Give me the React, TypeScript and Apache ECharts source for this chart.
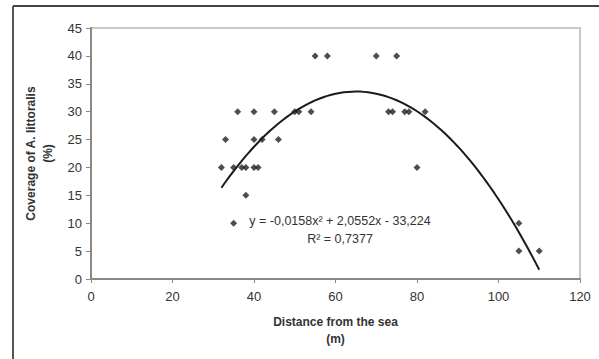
import React, { useEffect, useRef } from "react";
import * as echarts from "echarts";

// Observed points: distance from the sea (m) and coverage (%)
const distances = [
  36, 40, 45, 50, 51, 54,
  33, 40, 42, 46,
  32, 35, 37, 38, 40, 41,
  38, 35,
  55, 58, 70, 75,
  73, 74, 77, 78, 82,
  80,
  105, 105, 110,
];
const coverages = [
  30, 30, 30, 30, 30, 30,
  25, 25, 25, 25,
  20, 20, 20, 20, 20, 20,
  15, 10,
  40, 40, 40, 40,
  30, 30, 30, 30, 30,
  20,
  10, 5, 5,
];

// Polynomial trendline shown on the chart: y = a x² + b x + c
const trendA = -0.0158;
const trendB = 2.0552;
const trendC = -33.224;
const trendFrom = 32;
const trendTo = 110;

const xTicks = { min: 0, max: 120, interval: 20 };
const yTicks = { min: 0, max: 45, interval: 5 };

const equationText = "y = -0,0158x² + 2,0552x - 33,224\nR² = 0,7377";
const xTitle = "Distance from the sea\n(m)";
const yTitle = "Coverage of A. littoralis\n(%)";

export default function App() {
  const ref = useRef<HTMLDivElement>(null);
  useEffect(() => {
    if (!ref.current) return;
    const chart = echarts.init(ref.current, undefined, { renderer: "svg" });
    const points = distances.map((x, i) => [x, coverages[i]]);
    const trend: number[][] = [];
    for (let x = trendFrom; x <= trendTo; x += 1) {
      trend.push([x, trendA * x * x + trendB * x + trendC]);
    }
    const font = "'Liberation Sans', Arial, sans-serif";
    chart.setOption({
      animation: false,
      backgroundColor: "#ffffff",
      textStyle: { fontFamily: font },
      grid: {
        left: 91,
        top: 28,
        right: 19,
        bottom: 80,
        show: true,
        borderColor: "#c8c8c8",
        borderWidth: 2,
      },
      xAxis: {
        type: "value",
        min: xTicks.min,
        max: xTicks.max,
        interval: xTicks.interval,
        name: xTitle,
        nameLocation: "middle",
        nameGap: 34,
        nameTextStyle: {
          fontFamily: font,
          fontSize: 12,
          fontWeight: "bold",
          color: "#333",
          lineHeight: 17,
        },
        axisLine: { show: true, lineStyle: { color: "#888", width: 2 } },
        axisTick: { show: true, length: 4, lineStyle: { color: "#888" } },
        splitLine: { show: false },
        axisLabel: { fontFamily: font, fontSize: 13, color: "#333", margin: 11 },
      },
      yAxis: {
        type: "value",
        min: yTicks.min,
        max: yTicks.max,
        interval: yTicks.interval,
        name: yTitle,
        nameLocation: "middle",
        nameGap: 32,
        nameRotate: 90,
        nameTextStyle: {
          fontFamily: font,
          fontSize: 12,
          fontWeight: "bold",
          color: "#333",
          lineHeight: 17,
        },
        axisLine: { show: true, lineStyle: { color: "#888", width: 2 } },
        axisTick: { show: true, length: 5, lineStyle: { color: "#888" } },
        splitLine: { show: false },
        axisLabel: { fontFamily: font, fontSize: 13, color: "#333", margin: 9 },
      },
      series: [
        {
          type: "line",
          data: trend,
          showSymbol: false,
          smooth: false,
          lineStyle: { color: "#1a1a1a", width: 2 },
          z: 3,
        },
        {
          type: "scatter",
          data: points,
          symbol: "diamond",
          symbolSize: 7,
          itemStyle: { color: "#222" },
          z: 4,
        },
      ],
      graphic: [
        {
          type: "line",
          shape: { x1: 13, y1: 6, x2: 599, y2: 6 },
          style: { stroke: "#444", lineWidth: 2 },
        },
        {
          type: "line",
          shape: { x1: 13, y1: 6, x2: 13, y2: 359 },
          style: { stroke: "#555", lineWidth: 2 },
        },
        {
          type: "text",
          x: 340,
          y: 230,
          style: {
            text: equationText,
            fontFamily: font,
            fontSize: 12.5,
            fill: "#333",
            align: "center",
            verticalAlign: "middle",
            lineHeight: 18,
          },
          z: 10,
        },
      ],
    });
    return () => chart.dispose();
  }, []);
  return (
    <div
      ref={ref}
      style={{ position: "fixed", left: 0, top: 0, width: 599, height: 359, background: "#fff" }}
    />
  );
}
